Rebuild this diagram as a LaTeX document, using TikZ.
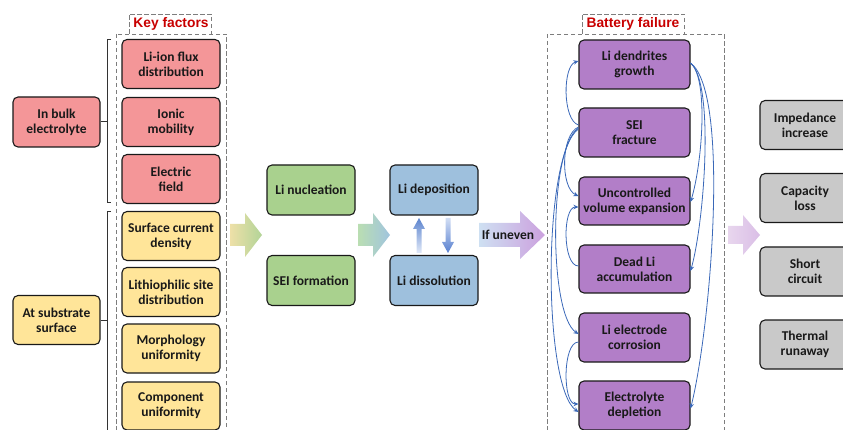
\documentclass[tikz,border=0pt]{standalone}
\usepackage{fontspec}
\setmainfont{Carlito}
\newfontfamily\labfont{Liberation Sans}
\usetikzlibrary{arrows.meta}
\definecolor{cred}{RGB}{244,150,152}
\definecolor{cyel}{RGB}{255,229,153}
\definecolor{cgrn}{RGB}{169,209,142}
\definecolor{cblu}{RGB}{158,192,221}
\definecolor{cpur}{RGB}{178,126,200}
\definecolor{cgry}{RGB}{201,201,201}
\definecolor{cline}{RGB}{58,104,184}
\definecolor{clab}{RGB}{200,0,0}
\definecolor{cdash}{RGB}{125,125,125}
\begin{document}
\begin{tikzpicture}[x=1pt,y=-1pt,
  box/.style={draw=black!90,line width=1.1pt,rounded corners=5pt,align=center,
    inner sep=0pt,font=\fontsize{13.5}{15}\selectfont\bfseries,text=black!90,minimum height=49pt},
  fbox/.style={box,fill=cred,minimum width=98pt},
  ybox/.style={box,fill=cyel,minimum width=98pt},
  gbox/.style={box,fill=cgrn,minimum width=88pt,minimum height=50pt},
  bbox/.style={box,fill=cblu,minimum width=88pt,minimum height=50pt},
  pbox/.style={box,fill=cpur,minimum width=111pt},
  gybox/.style={box,fill=cgry,minimum width=90pt},
  dashbox/.style={draw=cdash,line width=0.9pt,dash pattern=on 4.5pt off 2.5pt},
  lab/.style={font=\labfont\fontsize{13.8}{15}\selectfont\bfseries,text=clab,inner sep=0pt},
  brace/.style={draw=black!80,line width=1pt},
  conn/.style={draw=cline,line width=0.8pt,-{Stealth[length=5pt,width=4.5pt]}}]
\useasboundingbox (0,0) rectangle (843,430);

% key factors frame
\draw[dashbox] (129,34) -- (129,14) -- (211,14) -- (211,34);
\draw[dashbox] (116,34) rectangle (226,445);
\node[lab] (kf) at (171,24) {Key factors};

% battery failure frame
\draw[dashbox] (582,34) -- (582,14) -- (684,14) -- (684,34);
\draw[dashbox] (547,34) rectangle (724,445);
\node[lab] (bf) at (633,24) {Battery failure};

% factor boxes
\node[fbox] (f1) at (171,64) {Li-ion flux\\distribution};
\node[fbox] (f2) at (171,122) {Ionic\\mobility};
\node[fbox] (f3) at (171,179) {Electric\\field};
\node[ybox] (y1) at (171,236) {Surface current\\density};
\node[ybox] (y2) at (171,292) {Lithiophilic site\\distribution};
\node[ybox] (y3) at (171,348.5) {Morphology\\uniformity};
\node[ybox,minimum height=48pt] (y4) at (171,406) {Component\\uniformity};

\node[fbox,minimum width=87pt,minimum height=50pt] (bulk) at (56.5,122) {In bulk\\electrolyte};
\node[ybox,minimum width=87pt] (sub) at (56.5,320) {At substrate\\surface};

% brackets
\draw[brace] (111,40) -- (107,40) -- (107,203) -- (111,203);
\draw[brace] (bulk.east) -- (bulk.east -| 107,0);
\draw[brace] (111,212) -- (107,212) -- (107,445);
\draw[brace] (sub.east) -- (sub.east -| 107,0);

% gradient arrows
\shade[left color={rgb,255:red,238;green,224;blue,168},right color={rgb,255:red,178;green,212;blue,152}]
  (230,224) -- (245,224) -- (245,213) -- (262,235) -- (245,257) -- (245,246) -- (230,246) -- cycle;
\shade[left color={rgb,255:red,186;green,222;blue,178},right color={rgb,255:red,160;green,196;blue,222}]
  (358,224) -- (373,224) -- (373,213) -- (390,235) -- (373,257) -- (373,246) -- (358,246) -- cycle;
\shade[left color={rgb,255:red,206;green,224;blue,242},right color={rgb,255:red,204;green,160;blue,222}]
  (479,223) -- (520,223) -- (520,211) -- (545,235) -- (520,259) -- (520,247) -- (479,247) -- cycle;
\shade[left color={rgb,255:red,232;green,214;blue,238},right color={rgb,255:red,218;green,190;blue,230}]
  (728,226) -- (743,226) -- (743,215) -- (760,235) -- (743,255) -- (743,244) -- (728,244) -- cycle;
\node[font=\fontsize{13.5}{15}\selectfont\bfseries,text=black!90,inner sep=0pt] (unev) at (508,235) {If uneven};

% process boxes
\node[gbox] (nuc) at (311,190) {Li nucleation};
\node[gbox] (sei0) at (311,280.5) {SEI formation};
\node[bbox] (dep) at (434,190) {Li deposition};
\node[bbox] (dis) at (434,280.5) {Li dissolution};

% small up/down arrows
\shade[top color={rgb,255:red,92;green,132;blue,206},bottom color={rgb,255:red,225;green,233;blue,248}]
  (416.5,253) -- (416.5,229) -- (413,229) -- (419,218) -- (425,229) -- (421.5,229) -- (421.5,253) -- cycle;
\shade[top color={rgb,255:red,210;green,222;blue,244},bottom color={rgb,255:red,88;green,128;blue,208}]
  (445.5,218) -- (445.5,242) -- (442,242) -- (448,253) -- (454,242) -- (450.5,242) -- (450.5,218) -- cycle;

% battery failure boxes
\node[pbox] (dend) at (634.5,64.5) {Li dendrites\\growth};
\node[pbox] (sei) at (634.5,132.5) {SEI\\fracture};
\node[pbox,minimum height=48pt] (vol) at (634.5,201) {Uncontrolled\\volume expansion};
\node[pbox,minimum height=48pt] (dead) at (634.5,269) {Dead Li\\accumulation};
\node[pbox] (corr) at (634.5,337.5) {Li electrode\\corrosion};
\node[pbox] (depl) at (634.5,405.5) {Electrolyte\\depletion};

% consequences
\node[gybox] (imp) at (805,125) {Impedance\\increase};
\node[gybox] (cap) at (805,198) {Capacity\\loss};
\node[gybox] (short) at (805,271.5) {Short\\circuit};
\node[gybox] (therm) at (805,344.5) {Thermal\\runaway};

% left connectors
\draw[conn] ([yshift=7.5pt]sei.west) .. controls +(-16,-5) and +(-16,5) .. ([yshift=3.5pt]dend.west);
\draw[conn] ([yshift=5.5pt]sei.west) .. controls +(-18,8) and +(-18,-8) .. ([yshift=5pt]vol.west);
\draw[conn] ([yshift=3pt]dead.west) .. controls +(-16,0) and +(-16,0) .. ([yshift=-6pt]vol.west);
\draw[conn] ([yshift=4.5pt]sei.west) .. controls +(-30,20) and +(-30,-20) .. ([yshift=3.5pt]corr.west);
\draw[conn] ([yshift=3.5pt]sei.west) .. controls +(-36,25) and +(-36,-25) .. ([yshift=-6.5pt]depl.west);
\draw[conn] ([yshift=-4.5pt]corr.west) .. controls +(-16,0) and +(-16,0) .. ([yshift=1.5pt]depl.west);

% right connectors
\draw[conn] ([yshift=1.5pt]dend.east) .. controls +(18,15) and +(12,-40) .. ([yshift=-1pt]vol.east);
\draw[conn] ([yshift=1.5pt]dend.east) .. controls +(24,20) and +(14,-50) .. ([yshift=-2pt]dead.east);
\draw[conn] ([yshift=1.5pt]dend.east) .. controls +(40,30) and +(20,-80) .. ([yshift=-3pt]depl.east);
\end{tikzpicture}
\end{document}
